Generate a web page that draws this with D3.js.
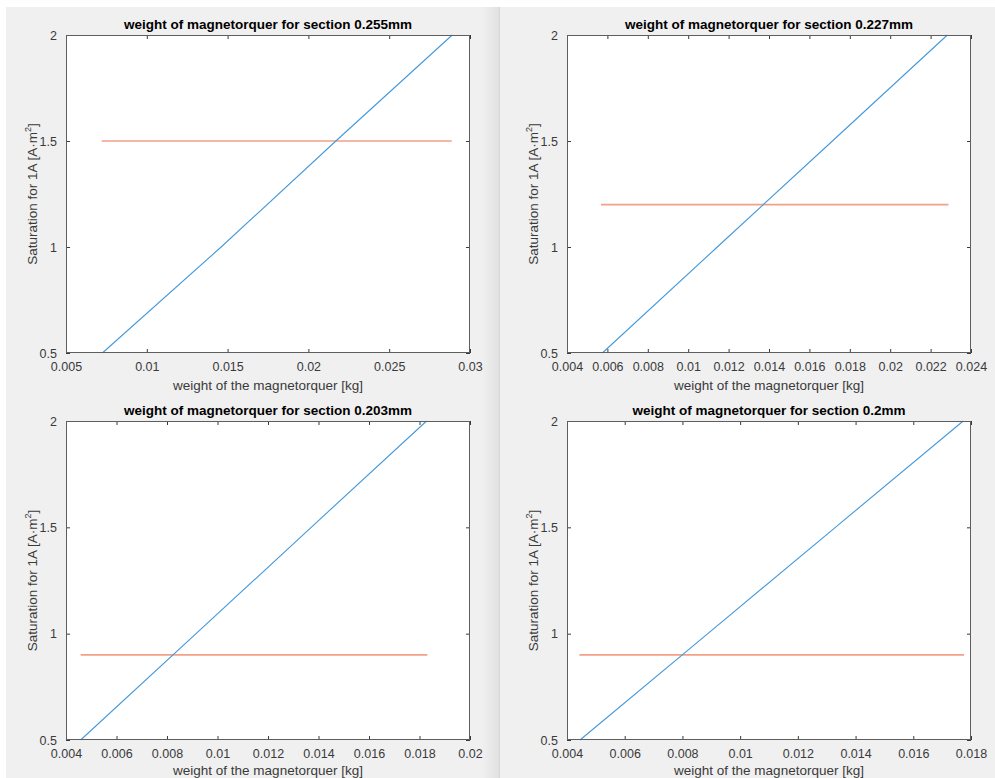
<!DOCTYPE html>
<html>
<head>
<meta charset="utf-8">
<script src="https://cdn.jsdelivr.net/npm/d3@7"></script>
<style>
  html, body { margin: 0; padding: 0; background: #f0f0f0; }
  svg { display: block; font-family: "Liberation Sans", Arial, Helvetica, sans-serif; }
</style>
</head>
<body>
<svg id="fig"></svg>
<script>
// section sizes (titles) of the four plots
const sections = ["0.255mm", "0.227mm", "0.203mm", "0.2mm"];

// x axis domains and ticks
const xDomains = [[0.005, 0.03], [0.004, 0.024], [0.004, 0.02], [0.004, 0.018]];
const xTicks = [
    [0.005, 0.01, 0.015, 0.02, 0.025, 0.03],
    [0.004, 0.006, 0.008, 0.01, 0.012, 0.014, 0.016, 0.018, 0.02, 0.022, 0.024],
    [0.004, 0.006, 0.008, 0.01, 0.012, 0.014, 0.016, 0.018, 0.02],
    [0.004, 0.006, 0.008, 0.01, 0.012, 0.014, 0.016, 0.018]
];
const yTicks = [0.5, 1, 1.5, 2];

// blue curve: saturation vs weight
const satLevels = [0.5, 1.0, 1.5, 2.0];
const weights255 = [0.00725, 0.0146, 0.0217, 0.0289];
const weights227 = [0.00575, 0.01144, 0.01714, 0.02283];
const weights203 = [0.00458, 0.00915, 0.01371, 0.01828];
const weights200 = [0.00445, 0.00888, 0.0133, 0.01773];

// orange line: required saturation and its x extent
const required = [1.5, 1.2, 0.9, 0.9];
const requiredFrom = [0.00721, 0.00568, 0.00458, 0.00443];
const requiredTo = [0.02887, 0.02288, 0.01831, 0.01776];

const W = 995, H = 778;
const svg = d3.select("#fig").attr("width", W).attr("height", H);

// figure background
svg.append("rect").attr("width", W).attr("height", H).attr("fill", "#f0f0f0");
svg.append("rect").attr("width", W).attr("height", 7).attr("fill", "#ffffff");
svg.append("rect").attr("width", 6).attr("height", H).attr("fill", "#ffffff");

const grad = svg.append("defs").append("linearGradient").attr("id", "sep");
grad.append("stop").attr("offset", "0%").attr("stop-color", "#f0f0f0");
grad.append("stop").attr("offset", "100%").attr("stop-color", "#e1e1e1");
svg.append("rect").attr("x", 482).attr("y", 7).attr("width", 17).attr("height", H - 7).attr("fill", "url(#sep)");
svg.append("line").attr("x1", 499.5).attr("x2", 499.5).attr("y1", 7).attr("y2", H)
    .attr("stroke", "#d6d6d6");

const boxes = [
    {x0: 66, x1: 470, y0: 35, y1: 353, lab: 37},
    {x0: 567, x1: 971, y0: 35, y1: 353, lab: 37},
    {x0: 66, x1: 470, y0: 421, y1: 740, lab: 35},
    {x0: 567, x1: 971, y0: 421, y1: 740, lab: 35}
];
const weights = [weights255, weights227, weights203, weights200];

boxes.forEach(function (b, i) {
    drawPanel(b, i);
});

function drawPanel(b, i) {
    const x = d3.scaleLinear().domain(xDomains[i]).range([b.x0, b.x1]);
    const y = d3.scaleLinear().domain([0.5, 2]).range([b.y1, b.y0]);
    const g = svg.append("g");
    const axisColor = "#3a3a3a";
    const fmt = function (d) { return String(d); };

    g.append("rect")
        .attr("x", b.x0).attr("y", b.y0)
        .attr("width", b.x1 - b.x0).attr("height", b.y1 - b.y0)
        .attr("fill", "#ffffff");

    const axes = [
        {axis: d3.axisBottom(x).tickValues(xTicks[i]).tickFormat(fmt), t: "translate(0," + b.y1 + ")"},
        {axis: d3.axisTop(x).tickValues(xTicks[i]).tickFormat(""), t: "translate(0," + b.y0 + ")"},
        {axis: d3.axisLeft(y).tickValues(yTicks).tickFormat(fmt), t: "translate(" + b.x0 + ",0)"},
        {axis: d3.axisRight(y).tickValues(yTicks).tickFormat(""), t: "translate(" + b.x1 + ",0)"}
    ];
    axes.forEach(function (a) {
        const ag = g.append("g").attr("transform", a.t)
            .call(a.axis.tickSizeInner(-4).tickSizeOuter(0).tickPadding(9));
        ag.select(".domain").remove();
        ag.attr("font-size", 12.5).attr("font-family", "Liberation Sans, Arial, sans-serif");
        ag.selectAll(".tick line").attr("stroke", axisColor);
        ag.selectAll(".tick text").attr("fill", axisColor);
    });

    const pts = satLevels.map(function (s, k) { return [weights[i][k], s]; });
    const line = d3.line().x(function (d) { return x(d[0]); }).y(function (d) { return y(d[1]); });

    g.append("path").datum([[requiredFrom[i], required[i]], [requiredTo[i], required[i]]])
        .attr("d", line).attr("fill", "none")
        .attr("stroke", "#f2a088").attr("stroke-width", 1.7);

    g.append("path").datum(pts)
        .attr("d", line).attr("fill", "none")
        .attr("stroke", "#4499db").attr("stroke-width", 1.1);

    g.append("rect")
        .attr("x", b.x0 + 0.5).attr("y", b.y0 + 0.5)
        .attr("width", b.x1 - b.x0 - 1).attr("height", b.y1 - b.y0 - 1)
        .attr("fill", "none").attr("stroke", "#5e5e5e");

    g.append("text")
        .attr("x", (b.x0 + b.x1) / 2).attr("y", b.y0 - 6)
        .attr("text-anchor", "middle").attr("font-size", 13.5).attr("font-weight", "bold")
        .attr("fill", "#000")
        .text("weight of magnetorquer for section " + sections[i]);

    g.append("text")
        .attr("x", (b.x0 + b.x1) / 2).attr("y", b.y1 + b.lab)
        .attr("text-anchor", "middle").attr("font-size", 13.5).attr("fill", axisColor)
        .text("weight of the magnetorquer [kg]");

    const yl = g.append("text")
        .attr("transform", "translate(" + (b.x0 - 29) + "," + ((b.y0 + b.y1) / 2) + ") rotate(-90)")
        .attr("text-anchor", "middle").attr("font-size", 13.5).attr("fill", axisColor);
    yl.append("tspan").text("Saturation for 1A [A·m");
    yl.append("tspan").attr("font-size", 9).attr("dy", -6).text("2");
    yl.append("tspan").attr("dy", 6).text("]");
}
</script>
</body>
</html>
